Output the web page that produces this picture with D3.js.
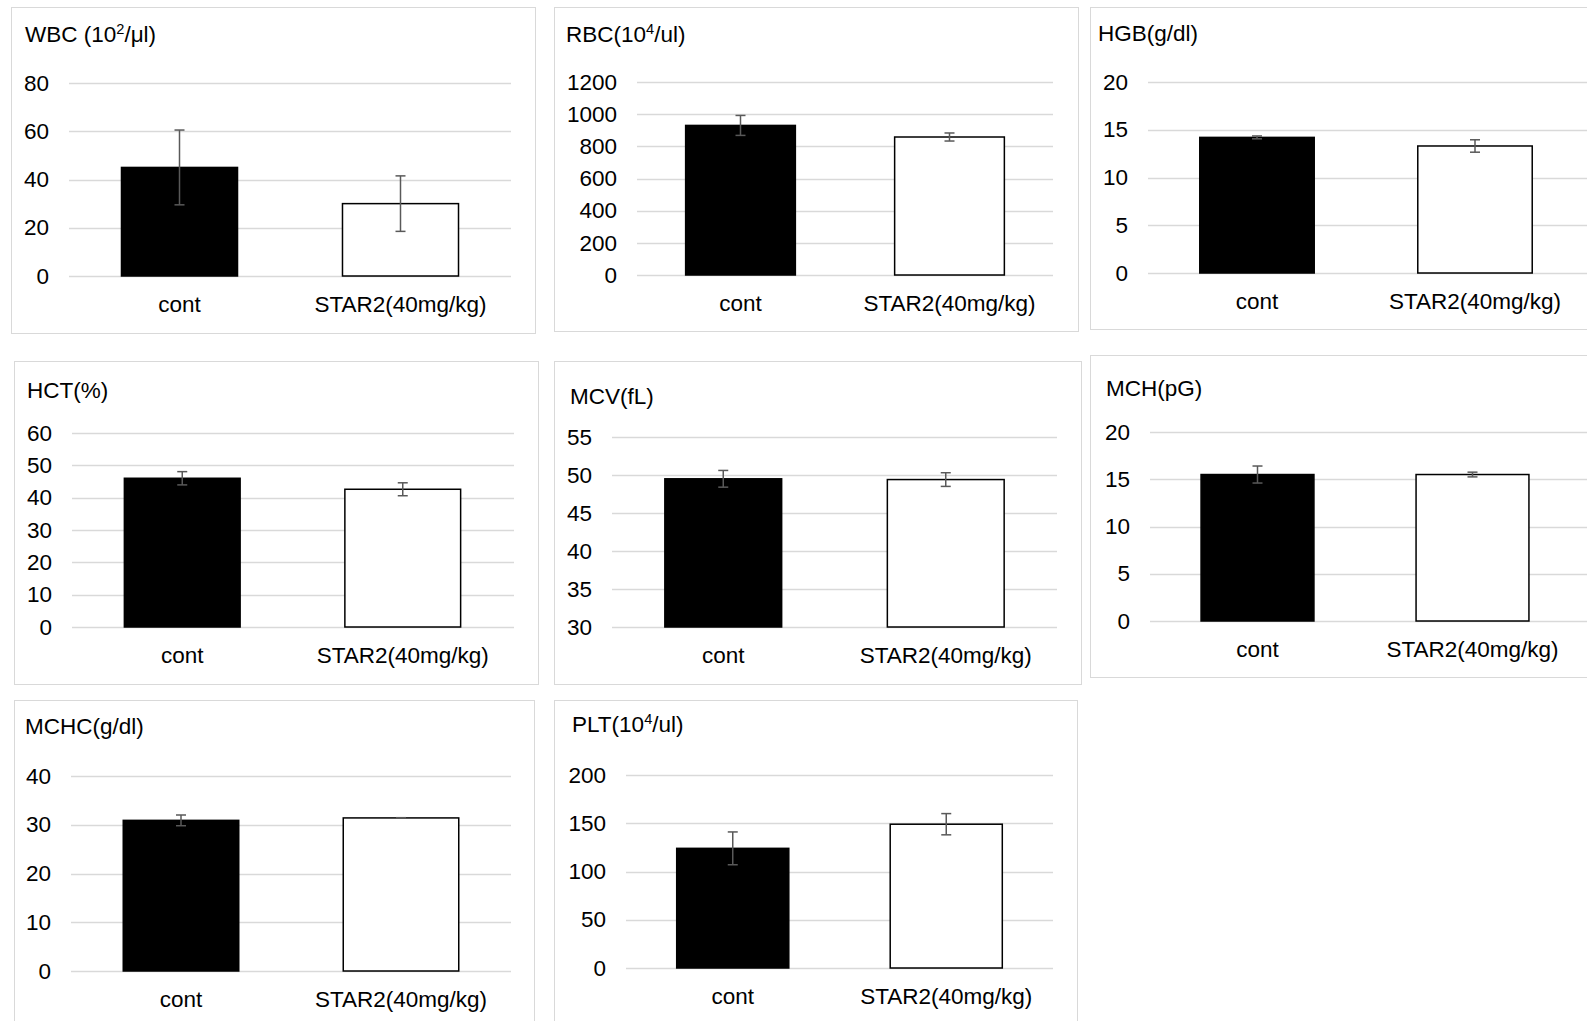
<!DOCTYPE html>
<html>
<head>
<meta charset="utf-8">
<script src="https://cdn.jsdelivr.net/npm/d3@7"></script>
<style>
  html, body { margin: 0; padding: 0; background: #fff; }
  svg { display: block; font-family: "Liberation Sans", Arial, sans-serif; }
</style>
</head>
<body>
<div id="chart"></div>
<script>
// datos de los paneles
const categories = ["cont", "STAR2(40mg/kg)"];
const titles = ["WBC (10^2/μl)", "RBC(10^4/ul)", "HGB(g/dl)", "HCT(%)",
                "MCV(fL)", "MCH(pG)", "MCHC(g/dl)", "PLT(10^4/ul)"];
const yDomains = [[0, 80], [0, 1200], [0, 20], [0, 60], [30, 55], [0, 20], [0, 40], [0, 200]];
const yTickSteps = [20, 200, 5, 10, 5, 5, 10, 50];
const contMeans = [45, 930, 14.2, 46.0, 49.5, 15.5, 30.9, 124];
const contErrors = [15.5, 62, 0.15, 2.05, 1.1, 0.9, 1.1, 17];
const starMeans = [30, 858, 13.3, 42.6, 49.4, 15.5, 31.4, 149];
const starErrors = [11.5, 25, 0.65, 2.0, 0.9, 0.25, 0.05, 11];

// posición de cada panel en la página
const layout = [
  { box: [11, 7, 524, 326],  plot: [69, 511, 83, 276],    gridLeft: 69,   gridRight: 511,  titleX: 25,   titleY: 42 },
  { box: [554, 7, 524, 324], plot: [636, 1054, 82, 275],  gridLeft: 637,  gridRight: 1053, titleX: 566,  titleY: 42 },
  { box: [1090, 7, 520, 322], plot: [1148, 1584, 82, 273], gridLeft: 1148, gridRight: 1587, titleX: 1098, titleY: 41 },
  { box: [14, 361, 524, 323], plot: [72, 513, 433, 627],  gridLeft: 72,   gridRight: 514,  titleX: 27,   titleY: 398 },
  { box: [554, 361, 527, 323], plot: [612, 1057, 437, 627], gridLeft: 612, gridRight: 1057, titleX: 570, titleY: 404 },
  { box: [1090, 355, 520, 322], plot: [1150, 1580, 432, 621], gridLeft: 1150, gridRight: 1587, titleX: 1106, titleY: 396 },
  { box: [14, 700, 520, 340], plot: [71, 511, 776, 971],   gridLeft: 71,   gridRight: 511,  titleX: 25,   titleY: 734 },
  { box: [554, 700, 523, 340], plot: [626, 1053, 775, 968], gridLeft: 626, gridRight: 1053, titleX: 572, titleY: 732 }
];

const W = 1587, H = 1021;
const fontSize = 22.5;

const svg = d3.select("#chart").append("svg")
    .attr("width", W)
    .attr("height", H);

titles.forEach((title, i) => {
    const L = layout[i];
    const g = svg.append("g");

    // marco del panel
    g.append("rect")
        .attr("x", L.box[0] + 0.5).attr("y", L.box[1] + 0.5)
        .attr("width", L.box[2]).attr("height", L.box[3])
        .attr("fill", "#fff").attr("stroke", "#d9d9d9").attr("stroke-width", 1);

    const x = d3.scaleBand().domain(categories)
        .range([L.plot[0], L.plot[1]])
        .paddingInner(0.475).paddingOuter(0.2375);
    const y = d3.scaleLinear().domain(yDomains[i])
        .range([L.plot[3], L.plot[2]]);
    const ticks = d3.range(yDomains[i][0], yDomains[i][1] + 1e-9, yTickSteps[i]);

    // líneas de la cuadrícula
    g.selectAll(".grid").data(ticks).join("line")
        .attr("x1", L.gridLeft).attr("x2", L.gridRight)
        .attr("y1", d => Math.round(y(d)) + 0.5).attr("y2", d => Math.round(y(d)) + 0.5)
        .attr("stroke", "#d9d9d9").attr("stroke-width", 1.5);

    // eje Y con el eje de D3, sin dominio ni marcas
    const axis = g.append("g")
        .attr("transform", `translate(${L.gridLeft - 20},0)`)
        .call(d3.axisLeft(y).tickValues(ticks).tickSize(0).tickPadding(0).tickFormat(d3.format("d")));
    axis.select(".domain").remove();
    axis.selectAll("text")
        .attr("font-size", fontSize)
        .attr("font-family", "Liberation Sans, Arial, sans-serif")
        .attr("fill", "#000");

    // barras
    const means = [contMeans[i], starMeans[i]];
    const errs = [contErrors[i], starErrors[i]];
    const fills = ["#000", "#fff"];
    const y0 = y(yDomains[i][0]);

    g.selectAll(".bar").data(categories).join("rect")
        .attr("x", d => x(d))
        .attr("y", (d, j) => y(means[j]))
        .attr("width", x.bandwidth())
        .attr("height", (d, j) => y0 - y(means[j]))
        .attr("fill", (d, j) => fills[j])
        .attr("stroke", "#000")
        .attr("stroke-width", 1.5);

    // barras de error
    categories.forEach((c, j) => {
        const cx = x(c) + x.bandwidth() / 2;
        const hi = y(means[j] + errs[j]), lo = y(means[j] - errs[j]);
        const eg = g.append("g").attr("stroke", "#595959").attr("stroke-width", 1.5);
        eg.append("line").attr("x1", cx).attr("x2", cx).attr("y1", hi).attr("y2", lo);
        eg.append("line").attr("x1", cx - 5).attr("x2", cx + 5).attr("y1", hi).attr("y2", hi);
        eg.append("line").attr("x1", cx - 5).attr("x2", cx + 5).attr("y1", lo).attr("y2", lo);
    });

    // etiquetas de categoría
    g.selectAll(".cat").data(categories).join("text")
        .attr("x", d => x(d) + x.bandwidth() / 2)
        .attr("y", L.plot[3] + 36)
        .attr("text-anchor", "middle")
        .attr("font-size", fontSize)
        .attr("fill", "#000")
        .text(d => d);

    // título con superíndice
    const t = g.append("text")
        .attr("x", L.titleX).attr("y", L.titleY)
        .attr("font-size", fontSize)
        .attr("fill", "#000");
    const m = title.match(/^(.*)\^(\d)(.*)$/);
    if (m) {
        t.append("tspan").text(m[1]);
        t.append("tspan").attr("font-size", fontSize * 0.65).attr("dy", -8).text(m[2]);
        t.append("tspan").attr("dy", 8).text(m[3]);
    } else {
        t.text(title);
    }
});
</script>
</body>
</html>
